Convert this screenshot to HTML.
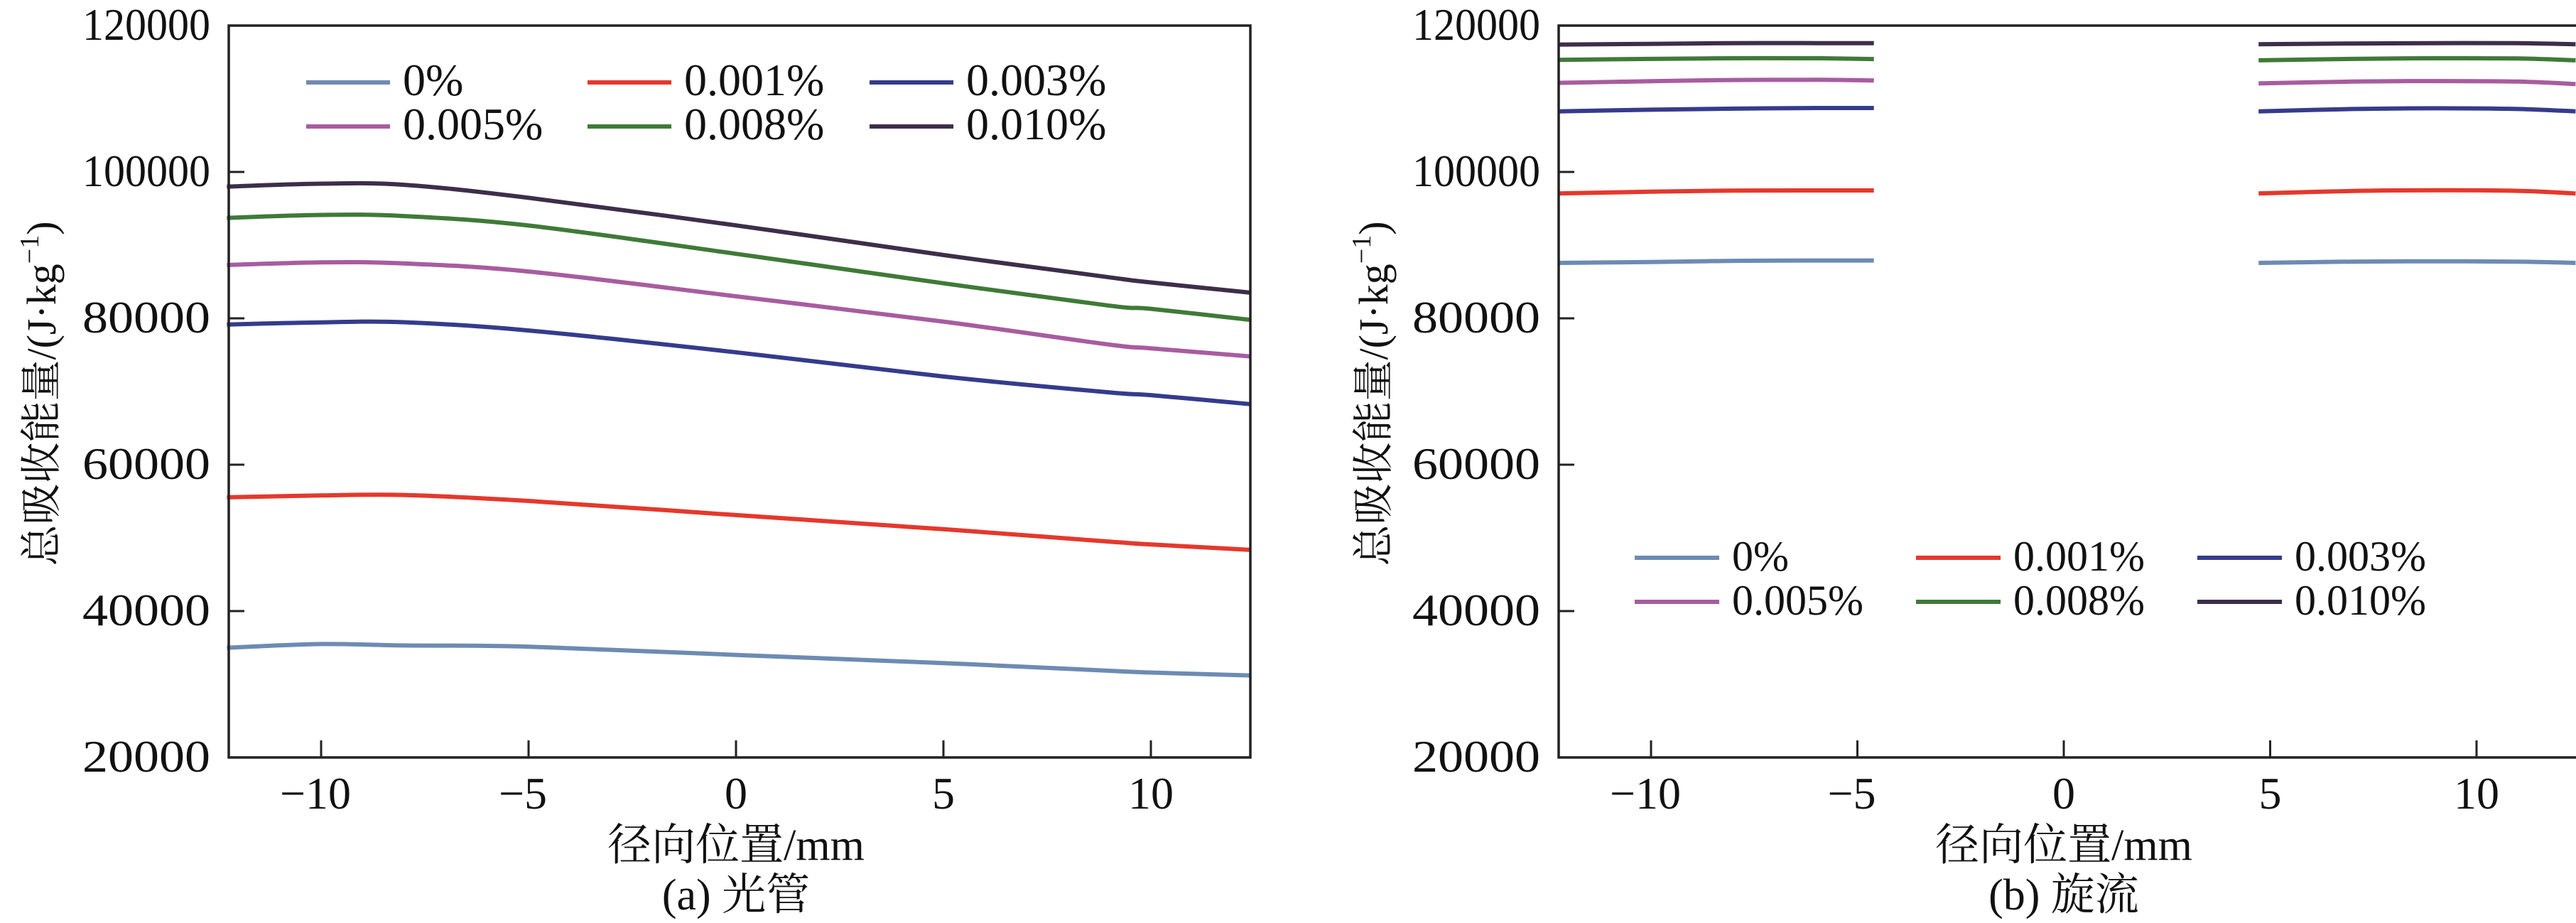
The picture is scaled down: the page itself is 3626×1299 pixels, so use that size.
<!DOCTYPE html>
<html><head><meta charset="utf-8">
<style>
html,body{margin:0;padding:0;background:#fff;}
svg{display:block;}
text{font-family:"Liberation Serif","Noto Serif CJK SC","Noto Sans CJK SC",serif;fill:#111;}
</style></head>
<body>
<svg id="fig" width="3626" height="1299" viewBox="0 0 3626 1299" xmlns="http://www.w3.org/2000/svg">
<g id="pa"></g>
<g id="pb"></g>
</svg>
<script>
const seriesLabels = ["0%","0.001%","0.003%","0.005%","0.008%","0.010%"];
const seriesColors = ["#6d8bb3","#e5382d","#353b8c","#a85c9f","#3f7a38","#3d2e4a"];
const yTicks = [20000,40000,60000,80000,100000,120000];
const xTicks = [-10,-5,0,5,10];
// chart (a) data
const aX = [-12.27,-10,-8,-5,0,5,9,10,12.4];
const a0   = [34980,35500,35300,35140,34010,32890,31840,31600,31200];
const a001 = [55540,55800,55860,55050,53120,51180,49490,49100,48360];
const a003 = [79150,79450,79470,78340,75360,72050,69880,69500,68270];
const a005 = [87280,87650,87500,86400,83010,79550,76410,75900,74800];
const a008 = [93730,94130,93970,92680,88820,84790,81730,81300,79790];
const a010 = [98000,98400,98240,96470,92700,88650,85600,84900,83500];
// chart (b) data, two segments
const bXL = [-12.25,-10,-8,-6,-4.6];
const bXR = [4.72,7,9,11,12.4];
const b0L   = [87570,87700,87850,87900,87900];
const b0R   = [87570,87750,87800,87750,87570];
const b001L = [97060,97300,97450,97480,97480];
const b001R = [97060,97400,97500,97420,97060];
const b003L = [108280,108500,108650,108740,108740];
const b003R = [108280,108600,108700,108600,108280];
const b005L = [112170,112400,112560,112590,112500];
const b005R = [112100,112350,112420,112350,112010];
const b008L = [115310,115450,115530,115530,115430];
const b008R = [115250,115450,115530,115500,115250];
const b010L = [117410,117500,117600,117600,117600];
const b010R = [117450,117550,117600,117600,117450];

const NS="http://www.w3.org/2000/svg";
function mk(parent,tag,attrs){const e=document.createElementNS(NS,tag);for(const k in attrs)e.setAttribute(k,attrs[k]);parent.appendChild(e);return e;}
function smooth(pts){let d="M"+pts[0][0].toFixed(1)+","+pts[0][1].toFixed(1);
 for(let i=0;i<pts.length-1;i++){const p0=pts[Math.max(0,i-1)],p1=pts[i],p2=pts[i+1],p3=pts[Math.min(pts.length-1,i+2)];
  const c1=[p1[0]+(p2[0]-p0[0])/6,p1[1]+(p2[1]-p0[1])/6],c2=[p2[0]-(p3[0]-p1[0])/6,p2[1]-(p3[1]-p1[1])/6];
  d+="C"+c1[0].toFixed(1)+","+c1[1].toFixed(1)+" "+c2[0].toFixed(1)+","+c2[1].toFixed(1)+" "+p2[0].toFixed(1)+","+p2[1].toFixed(1);}
 return d;}

function drawChart(g,cfg){
 const sx=v=>cfg.x0px+(v)*cfg.pxPerX;
 const sy=v=>cfg.top+(120000-v)/100000*(cfg.bottom-cfg.top);
 cfg.series.forEach((segs,i)=>{segs.forEach(([xs,ys],j)=>{
  const p=mk(g,"path",{d:smooth(xs.map((x,k)=>[sx(x),sy(ys[k])])),fill:"none",stroke:seriesColors[i],"stroke-width":6});
  
  
 });});
 const fr=mk(g,"rect",{x:cfg.left,y:cfg.top,width:cfg.right-cfg.left,height:cfg.bottom-cfg.top,fill:"none",stroke:"#222","stroke-width":3.5});
 
 
 yTicks.forEach(v=>{const y=sy(v);
  const t=mk(g,"line",{x1:cfg.left,x2:cfg.left+22,y1:y,y2:y,stroke:"#222","stroke-width":3});
  
  
  const l=mk(g,"text",{x:cfg.left-26,y:y+20,"text-anchor":"end","font-size":64,textLength:180,lengthAdjust:"spacingAndGlyphs"});
  l.textContent=v;
  
  
 });
 xTicks.forEach(v=>{const x=sx(v);
  const t=mk(g,"line",{x1:x,x2:x,y1:cfg.bottom,y2:cfg.bottom-24,stroke:"#222","stroke-width":3});
  
  
  const l=mk(g,"text",{x:x+(v<0?-8:0),y:1138,"text-anchor":"middle","font-size":64});
  l.textContent=v<0?"\u2212"+(-v):String(v);
  
  
 });
 const xt=mk(g,"text",{x:cfg.xTitleX,y:1210,"text-anchor":"middle","font-size":62});
 xt.textContent="径向位置/mm";
 
 
 const cp=mk(g,"text",{x:cfg.xTitleX,y:1280,"text-anchor":"middle","font-size":62});
 cp.textContent=cfg.caption;
 
 
 const yt=mk(g,"text",{x:0,y:0,"text-anchor":"middle","font-size":58,transform:"translate("+(cfg.yTitleX)+",554) rotate(-90)"});
 yt.innerHTML='总吸收能量/(J·kg<tspan dy="-24" font-size="38">−1</tspan><tspan dy="24">)</tspan>';
 
 
 seriesLabels.forEach((lab,i)=>{const col=i%3,row=Math.floor(i/3);
  const lx=cfg.legX[col],ly=cfg.legY[row];
  const ent=mk(g,"g",{});
  
  
  mk(ent,"line",{x1:lx,x2:lx+cfg.legLen,y1:ly,y2:ly,stroke:seriesColors[i],"stroke-width":6});
  const t=mk(ent,"text",{x:lx+cfg.legLen+cfg.legGap,y:ly+18,"font-size":cfg.legFont});
  t.textContent=lab;
 });
}

drawChart(document.getElementById('pa'),{
 left:322,right:1760,top:36,bottom:1066,x0px:1036,pxPerX:58.4,
 xTitleX:1036,yTitleX:78,caption:"(a) 光管",
 legX:[431,827,1224],legY:[116,178],legLen:118,legGap:18,legFont:64,
 series:[[[aX,a0]],[[aX,a001]],[[aX,a003]],[[aX,a005]],[[aX,a008]],[[aX,a010]]]
});
drawChart(document.getElementById('pb'),{
 left:2194,right:3640,top:36,bottom:1066,x0px:2905,pxPerX:58.1,
 xTitleX:2905,yTitleX:1953,caption:"(b) 旋流",
 legX:[2301,2697,3093],legY:[785,847],legLen:119,legGap:18,legFont:60,
 series:[[[bXL,b0L],[bXR,b0R]],[[bXL,b001L],[bXR,b001R]],[[bXL,b003L],[bXR,b003R]],[[bXL,b005L],[bXR,b005R]],[[bXL,b008L],[bXR,b008R]],[[bXL,b010L],[bXR,b010R]]]
});
</script>
</body></html>
